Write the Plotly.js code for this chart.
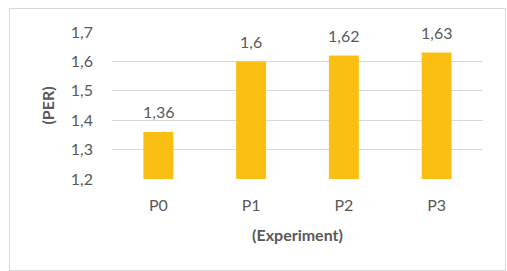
<!DOCTYPE html>
<html><head><meta charset="utf-8">
<script src="https://cdn.plot.ly/plotly-3.0.1.min.js"></script>
<style>html,body{margin:0;padding:0;background:#fff;}#chart{width:507px;height:271px;}</style>
</head><body><div id="chart"></div>
<script>
const categories = ['P0', 'P1', 'P2', 'P3'];
const perValues = [1.36, 1.6, 1.62, 1.63];
const yTickValues = [1.2, 1.3, 1.4, 1.5, 1.6, 1.7];
const yTickLabels = ['1,2', '1,3', '1,4', '1,5', '1,6', '1,7'];
const valueLabels = ['1,36', '1,6', '1,62', '1,63'];

const W = 507, H = 271;
const L = 112, R = 24, T = 32, B = 92;
const pw = W - L - R, ph = H - T - B;
function px(x){ return (x - L) / pw; }
function py(y){ return (H - B - y) / ph; }

const font = 'Lato, "Open Sans", sans-serif';
const grey = '#595959';
const fs = 16;

const annotations = categories.map((c, i) => ({
  x: c, y: perValues[i], xref: 'x', yref: 'y',
  text: valueLabels[i], showarrow: false,
  yanchor: 'middle', xanchor: 'center', yshift: 20,
  font: {family: font, size: fs, color: grey}
}));

Plotly.newPlot('chart', [{
  type: 'bar',
  x: categories,
  y: perValues,
  marker: {color: '#FBBF14'},
  hoverinfo: 'none'
}], {
  width: W, height: H,
  margin: {l: L, r: R, t: T, b: B, pad: 0},
  paper_bgcolor: '#ffffff',
  plot_bgcolor: '#ffffff',
  separators: ', ',
  bargap: 0.677,
  showlegend: false,
  annotations: annotations,
  xaxis: {
    type: 'category',
    showgrid: false,
    showline: false,
    zeroline: false,
    ticks: '',
    ticklen: 0,
    ticklabelstandoff: 15,
    tickfont: {family: font, size: fs, color: grey},
    title: {text: '<b>(Experiment)</b>', font: {family: font, size: fs, color: grey}, standoff: 16}
  },
  yaxis: {
    range: [1.2, 1.7],
    tickvals: yTickValues,
    ticktext: yTickLabels,
    showgrid: true,
    gridcolor: '#d9d9d9',
    gridwidth: 1,
    zeroline: false,
    showline: false,
    ticks: '',
    tickfont: {family: font, size: fs, color: grey},
    ticklabelstandoff: 18,
    title: {text: '<b>(PER)</b>', font: {family: font, size: fs, color: grey}, standoff: 12}
  },
  shapes: [{
    type: 'rect', xref: 'paper', yref: 'paper',
    x0: px(9.5), x1: px(505.5), y0: py(8.5), y1: py(270.5),
    line: {color: '#d9d9d9', width: 1}, fillcolor: 'rgba(0,0,0,0)', layer: 'below'
  }]
}, {staticPlot: true, displayModeBar: false});
</script>
</body></html>
